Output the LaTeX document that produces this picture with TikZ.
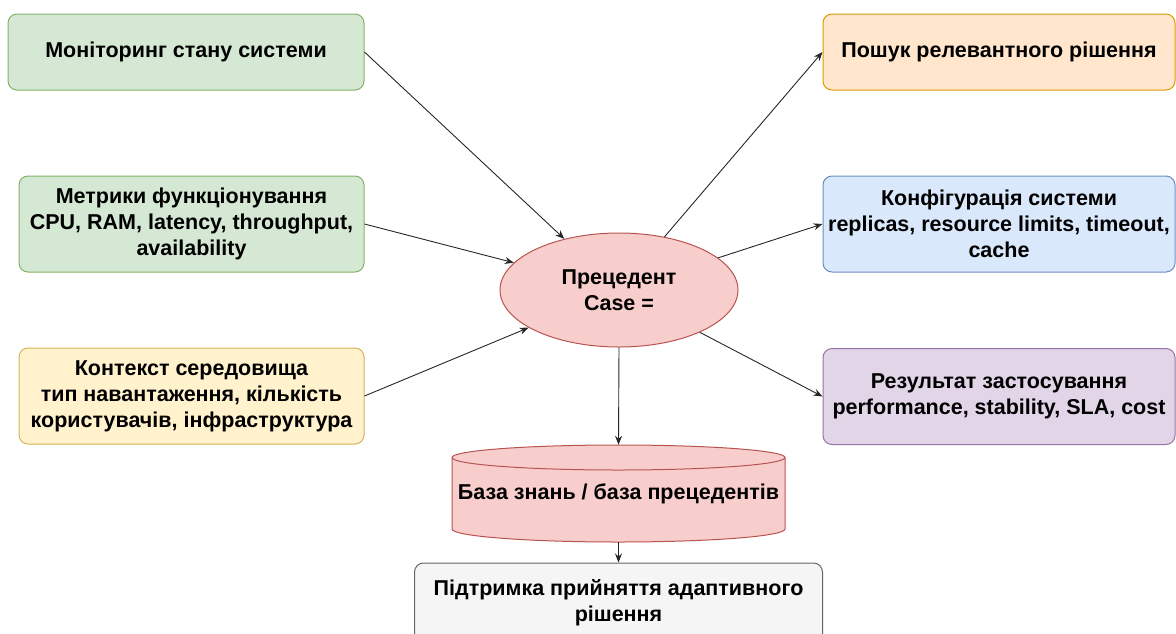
\documentclass[tikz,border=0pt]{standalone}
\usepackage{fontspec}
\setmainfont{Liberation Sans}
\usetikzlibrary{shapes.geometric,arrows.meta}

\definecolor{grfill}{HTML}{D5E8D4}\definecolor{grline}{HTML}{82B366}
\definecolor{orfill}{HTML}{FFE6CC}\definecolor{orline}{HTML}{D79B00}
\definecolor{yefill}{HTML}{FFF2CC}\definecolor{yeline}{HTML}{D6B656}
\definecolor{blfill}{HTML}{DAE8FC}\definecolor{blline}{HTML}{6C8EBF}
\definecolor{pufill}{HTML}{E1D5E7}\definecolor{puline}{HTML}{9673A6}
\definecolor{rdfill}{HTML}{F8CECC}\definecolor{rdline}{HTML}{B85450}
\definecolor{gyfill}{HTML}{F5F5F5}\definecolor{gyline}{HTML}{666666}

\tikzset{
  txt/.style={font=\fontsize{21.5}{26}\selectfont\bfseries, align=center, text=black},
  card/.style={txt, rectangle, rounded corners=9pt, line width=1pt, inner sep=0pt},
  flow/.style={line width=0.9pt, draw=black!85, -{Stealth[length=9pt,width=7pt]}},
}

\begin{document}
\begin{tikzpicture}[x=1pt,y=-1pt]
\useasboundingbox (0,0) rectangle (1176,633);
\clip (0,0) rectangle (1176,633);

% input boxes (left column)
\node[card, fill=grfill, draw=grline, minimum width=356pt, minimum height=76pt]
  (mon) at (186,52) {Моніторинг стану системи};
\node[card, fill=grfill, draw=grline, minimum width=345pt, minimum height=96pt]
  (met) at (191.5,224) {Метрики функціонування\\CPU, RAM, latency, throughput,\\availability};
\node[card, fill=yefill, draw=yeline, minimum width=345pt, minimum height=96pt]
  (ctx) at (191.5,396) {Контекст середовища\\тип навантаження, кількість\\користувачів, інфраструктура};

% output boxes (right column)
\node[card, fill=orfill, draw=orline, minimum width=352pt, minimum height=76pt]
  (srch) at (999,52) {Пошук релевантного рішення};
\node[card, fill=blfill, draw=blline, minimum width=352pt, minimum height=96pt]
  (cfg) at (999,224) {Конфігурація системи\\replicas, resource limits, timeout,\\cache};
\node[card, fill=pufill, draw=puline, minimum width=352pt, minimum height=96pt]
  (res) at (999,396.5) {Результат застосування\\performance, stability, SLA, cost};

% central case
\node[ellipse, txt, fill=rdfill, draw=rdline, line width=1pt, inner sep=0pt,
  minimum width=238pt, minimum height=114pt] (case) at (619,290) {Прецедент\\Case =};

% knowledge base cylinder (y axis points down, so arcs through 90 degrees bulge downwards)
\path[fill=rdfill, draw=rdline, line width=1pt]
  (452,457.5) arc[start angle=180, end angle=360, x radius=166.5, y radius=12.5]
  -- (785,529) arc[start angle=0, end angle=180, x radius=166.5, y radius=13]
  -- cycle;
\draw[rdline, line width=1pt]
  (452,457.5) arc[start angle=180, end angle=0, x radius=166.5, y radius=12.5];
\node[txt, minimum width=333pt, minimum height=97pt, inner sep=0pt]
  (kb) at (618.5,493.5) {База знань / база прецедентів};

% decision support box
\node[card, fill=gyfill, draw=gyline, minimum width=408pt, minimum height=80pt]
  (dec) at (618.5,603) {Підтримка прийняття адаптивного\\рішення};

% connectors
\draw[flow] (mon.east) -- (case);
\draw[flow] (met.east) -- (case);
\draw[flow] (ctx.east) -- (case);
\draw[flow] (case) -- (srch.west);
\draw[flow] (case) -- (cfg.west);
\draw[flow] (case) -- (res.west);
\draw[flow] (case.south) -- (kb.north);
\draw[flow] (kb.south) -- (dec.north);
\end{tikzpicture}
\end{document}
